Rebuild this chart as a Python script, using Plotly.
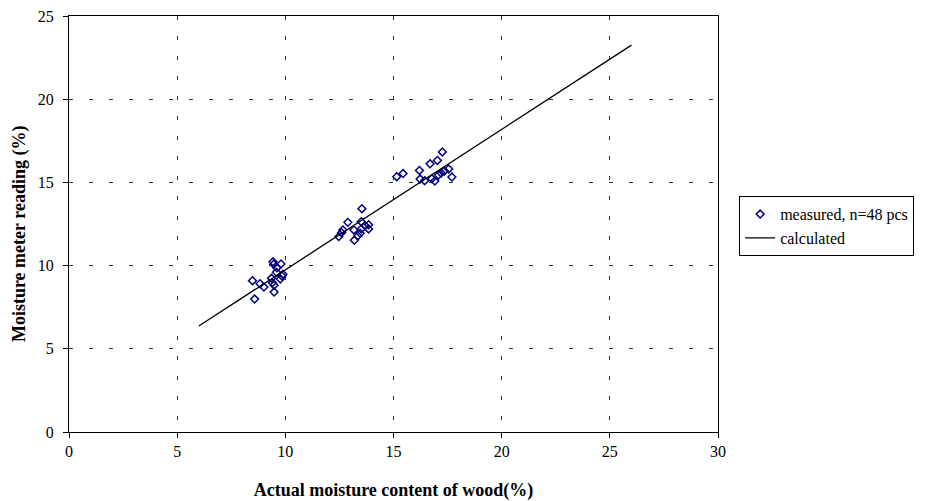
import plotly.graph_objects as go

# Measured samples: actual moisture content (%) vs. meter reading (%)
actual_mc = [
    9.43, 9.46, 9.80, 9.61, 9.59, 9.89, 9.84, 9.36, 9.77, 8.48, 8.83, 9.40, 9.01, 9.48, 9.48, 8.58,
    13.54, 12.89, 13.51, 13.85, 13.69, 12.66, 13.17, 13.51, 13.85, 12.60, 13.46, 12.47, 13.35, 13.19,
    15.15, 15.44, 16.20, 16.69, 17.03, 17.26, 16.23, 16.44, 16.77, 16.91, 17.08, 17.20, 17.35, 17.55, 17.70,
]
meter_reading = [
    10.23, 10.08, 10.10, 9.87, 9.60, 9.48, 9.38, 9.24, 9.19, 9.09, 8.91, 8.97, 8.71, 8.82, 8.41, 7.99,
    13.42, 12.60, 12.64, 12.46, 12.40, 12.14, 12.14, 12.20, 12.20, 11.98, 11.94, 11.74, 11.78, 11.52,
    15.34, 15.53, 15.72, 16.12, 16.32, 16.83, 15.20, 15.10, 15.22, 15.08, 15.44, 15.56, 15.69, 15.81, 15.32,
]

# Calculated relationship (end points of the fitted line)
calc_x = [6, 26]
calc_y = [6.37, 23.25]

x_ticks = [0, 5, 10, 15, 20, 25, 30]
y_ticks = [0, 5, 10, 15, 20, 25]

FONT = "Liberation Serif, Times New Roman, serif"
GRID = dict(showgrid=True, gridcolor="#333333", gridwidth=1, griddash="4px,16px")

fig = go.Figure()
fig.add_trace(go.Scatter(
    x=actual_mc, y=meter_reading, mode="markers", name="measured, n=48 pcs",
    marker=dict(symbol="diamond-open", size=6, color="#000080", line=dict(width=1.5, color="#000080")),
))
fig.add_trace(go.Scatter(
    x=calc_x, y=calc_y, mode="lines", name="calculated",
    line=dict(color="black", width=1.3),
))

fig.update_layout(
    width=925, height=501,
    margin=dict(l=69, r=206, t=16, b=69),
    paper_bgcolor="white", plot_bgcolor="white",
    font=dict(family=FONT, size=16, color="black"),
    showlegend=True,
    legend=dict(
        x=1.031, y=0.567, xanchor="left", yanchor="top",
        bordercolor="black", borderwidth=1, bgcolor="white",
        font=dict(family=FONT, size=16), tracegroupgap=0, itemwidth=30,
    ),
    xaxis=dict(
        range=[0, 30], tickvals=x_ticks, ticks="outside", ticklen=5, tickcolor="black",
        showline=True, linecolor="black", linewidth=1, mirror=True, zeroline=False,
        automargin=False,
        title=dict(text="<b>Actual moisture content of wood(%)</b>", font=dict(family=FONT, size=18), standoff=24),
        **GRID,
    ),
    yaxis=dict(
        range=[0, 25], tickvals=y_ticks, ticks="outside", ticklen=5, tickcolor="black",
        ticklabelstandoff=6, automargin=False,
        showline=True, linecolor="black", linewidth=1, mirror=True, zeroline=False,
        **GRID,
    ),
)

# Vertical axis title, placed as a rotated annotation left of the tick labels
fig.add_annotation(
    text="<b>Moisture meter reading (%)</b>", textangle=-90,
    xref="paper", yref="paper", x=-0.0754, y=0.476,
    xanchor="center", yanchor="middle", showarrow=False,
    font=dict(family=FONT, size=18, color="black"),
)

fig.write_html("out.html")
